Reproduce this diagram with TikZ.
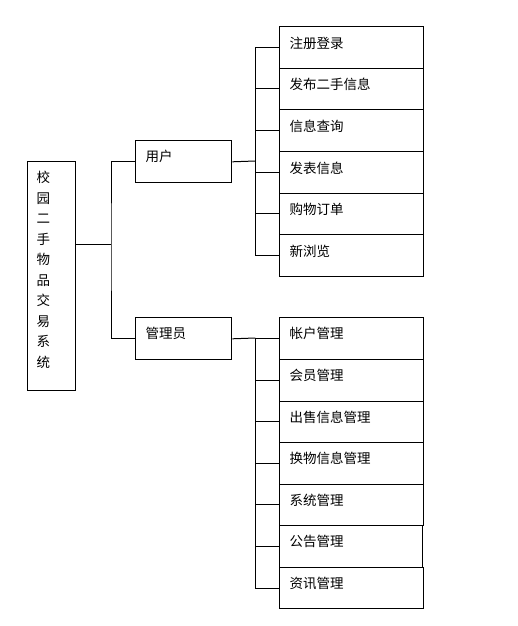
\documentclass[tikz,border=0pt]{standalone}
\usepackage{fontspec}
\newfontfamily\cjk{Noto Sans CJK SC}
\begin{document}
\begin{tikzpicture}[x=1pt,y=-1pt,
  box/.style={draw=black,line width=1pt,rectangle,anchor=north west,inner sep=0pt,minimum width=144pt,minimum height=41.5pt},
  midbox/.style={draw=black,line width=1pt,rectangle,anchor=north west,inner sep=0pt,minimum width=96pt,minimum height=42pt},
  lbl/.style={anchor=west,inner sep=0pt,font=\cjk\fontsize{13.5}{16}\selectfont},
  conn/.style={draw=black,line width=1pt}]
\useasboundingbox (0,0) rectangle (517,626);
\fill[white] (0,0) rectangle (517,626);
% root
\node[draw=black,line width=1pt,rectangle,anchor=north west,inner sep=0pt,minimum width=48pt,minimum height=229pt] (root) at (27.3,161.3) {};
\node[anchor=north,inner sep=0pt,align=center,font=\cjk\fontsize{13.5}{20.5}\selectfont] (roottext) at (43.3,171) {校\\园\\二\\手\\物\\品\\交\\易\\系\\统};
% second level
\node[midbox] (user) at (135.3,140.3) {};
\node[lbl] (usert) at (145.5,156) {用户};
\node[midbox] (admin) at (135.3,317.3) {};
\node[lbl] (admint) at (145.5,333) {管理员};
% user children
\foreach \i/\t/\y in {1/注册登录/26, 2/发布二手信息/67.5, 3/信息查询/109.3, 4/发表信息/151.3, 5/购物订单/192.5, 6/新浏览/234.3}{
  \node[box] (u\i) at (279.3,\y) {};
  \node[lbl] (ut\i) at ([xshift=10pt,yshift=-17pt]u\i.north west) {\t};
}
% admin children
\foreach \i/\t/\y/\w in {1/帐户管理/317.3/144, 2/会员管理/359.3/144, 3/出售信息管理/400.5/144, 4/换物信息管理/442.3/144, 5/系统管理/483.5/144, 6/公告管理/525.3/143, 7/资讯管理/566.8/144}{
  \node[box,minimum width=\w pt] (a\i) at (279.3,\y) {};
  \node[lbl] (at\i) at ([xshift=10pt,yshift=-16.5pt]a\i.north west) {\t};
}
% connectors
\coordinate (j1) at (111,244);
\coordinate (j2) at (255.3,161);
\coordinate (j3) at (255.3,338);
\draw[conn] (root.east |- j1) -- (j1);
\draw[conn] (user.west) -| (j1) |- (admin.west);
\draw[conn] (user.east) -- (j2);
\draw[conn] (admin.east) -- (j3);
\draw[conn] (j2 |- u1.west) -- (j2 |- u6.west);
\foreach \i in {1,...,6}{\draw[conn] (j2 |- u\i.west) -- (u\i.west);}
\draw[conn] (j3 |- a1.west) -- (j3 |- a7.west);
\foreach \i in {1,...,7}{\draw[conn] (j3 |- a\i.west) -- (a\i.west);}
\end{tikzpicture}
\end{document}
